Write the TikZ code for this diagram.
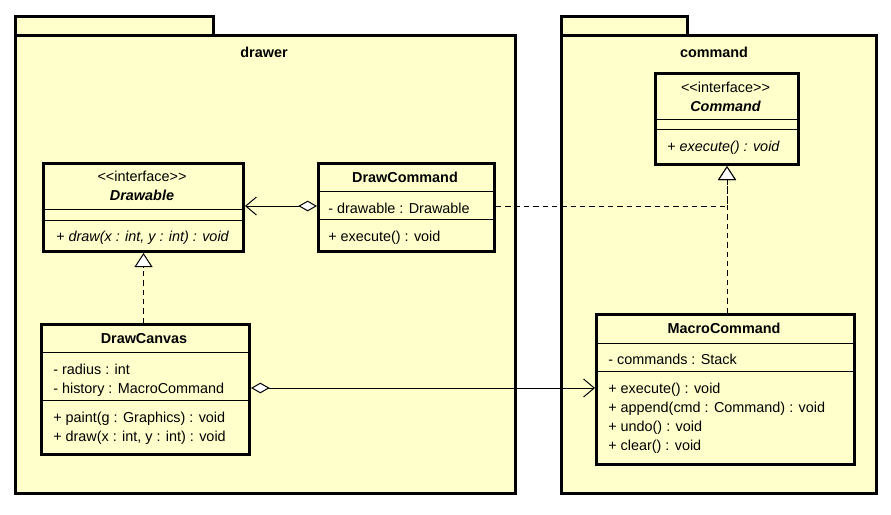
\documentclass[tikz,border=0pt]{standalone}
\usepackage{fontspec}
\setmainfont{Liberation Sans}
\usetikzlibrary{arrows.meta}
\definecolor{umlfill}{RGB}{255,255,204}
\newcommand\stereoiface{<\kern0pt<interface>\kern0pt>}
\begin{document}
\begin{tikzpicture}[x=0.75pt,y=-0.75pt,
  pkg/.style={draw, line width=2.25pt, fill=umlfill, rectangle, inner sep=0pt, anchor=north west},
  box/.style={draw, line width=2.25pt, fill=umlfill, rectangle, inner sep=0pt, anchor=north west},
  sepline/.style={line width=0.75pt},
  txt/.style={anchor=base west, inner sep=0pt, font=\fontsize{10.8pt}{13pt}\selectfont},
  ttl/.style={anchor=base, inner sep=0pt, font=\fontsize{10.8pt}{13pt}\selectfont\bfseries},
  stereo/.style={anchor=base, inner sep=0pt, font=\fontsize{10.8pt}{13pt}\selectfont},
  aggr/.style={line width=0.75pt, {Diamond[open, fill=white, length=14pt, width=8pt]}-{Straight Barb[length=8pt, width=13.5pt]}},
  realize/.style={line width=0.75pt, dash pattern=on 4pt off 3pt, -{Triangle[open, fill=white, length=10.5pt, width=13.5pt]}}
]
\useasboundingbox (0,0) rectangle (891,514);

% packages
\node[pkg, minimum width=148.5pt, minimum height=14.25pt] (drawertab) at (14,15) {};
\node[pkg, minimum width=375pt, minimum height=343.5pt] (drawer) at (14,34) {};
\node[ttl] (drawertitle) at (264,57) {drawer};
\node[pkg, minimum width=94.5pt, minimum height=14.25pt] (commandtab) at (560,15) {};
\node[pkg, minimum width=236.25pt, minimum height=343.5pt] (commandpkg) at (560,34) {};
\node[ttl] (commandtitle) at (714,57) {command};

% Drawable
\node[box, minimum width=150pt, minimum height=66pt] (drawable) at (42,162) {};
\node[stereo] (drawableS) at (142,181) {\stereoiface};
\node[ttl] (drawableT) at (142,200) {\itshape Drawable};
\draw[sepline] (drawable.west |- 0,209) -- (drawable.east |- 0,209);
\draw[sepline] (drawable.west |- 0,220) -- (drawable.east |- 0,220);
\node[txt] (drawableM) at (56,241) {+ \itshape draw(x : int, y : int) : void};

% DrawCommand
\node[box, minimum width=132pt, minimum height=66pt] (drawcmd) at (317,162) {};
\node[ttl] (drawcmdT) at (405,182) {DrawCommand};
\draw[sepline] (drawcmd.west |- 0,191) -- (drawcmd.east |- 0,191);
\node[txt] (drawcmdA) at (328,213) {- drawable : Drawable};
\draw[sepline] (drawcmd.west |- 0,219) -- (drawcmd.east |- 0,219);
\node[txt] (drawcmdM) at (328,241) {+ execute() : void};

% DrawCanvas
\node[box, minimum width=156pt, minimum height=97.5pt] (canvas) at (40,323) {};
\node[ttl] (canvasT) at (144,343) {DrawCanvas};
\draw[sepline] (canvas.west |- 0,352) -- (canvas.east |- 0,352);
\node[txt] (canvasA1) at (53,374) {- radius : int};
\node[txt] (canvasA2) at (53,393) {- history : MacroCommand};
\draw[sepline] (canvas.west |- 0,400) -- (canvas.east |- 0,400);
\node[txt] (canvasM1) at (53,422) {+ paint(g : Graphics) : void};
\node[txt] (canvasM2) at (53,441) {+ draw(x : int, y : int) : void};

% Command
\node[box, minimum width=107.25pt, minimum height=68.25pt] (command) at (654,72) {};
\node[stereo] (commandS) at (725.5,92) {\stereoiface};
\node[ttl] (commandT) at (725.5,111) {\itshape Command};
\draw[sepline] (command.west |- 0,119) -- (command.east |- 0,119);
\draw[sepline] (command.west |- 0,129) -- (command.east |- 0,129);
\node[txt] (commandM) at (667,151) {+ \itshape execute() : void};

% MacroCommand
\node[box, minimum width=193.5pt, minimum height=112.5pt] (macro) at (595,313) {};
\node[ttl] (macroT) at (724,333) {MacroCommand};
\draw[sepline] (macro.west |- 0,343) -- (macro.east |- 0,343);
\node[txt] (macroA) at (608,364) {- commands : Stack};
\draw[sepline] (macro.west |- 0,371) -- (macro.east |- 0,371);
\node[txt] (macroM1) at (608,393) {+ execute() : void};
\node[txt] (macroM2) at (608,412) {+ append(cmd : Command) : void};
\node[txt] (macroM3) at (608,431) {+ undo() : void};
\node[txt] (macroM4) at (608,450) {+ clear() : void};

% connectors
\draw[aggr] (drawcmd.west |- 0,206) -- (drawable.east |- 0,206);
\draw[aggr] (canvas.east |- 0,388) -- (macro.west |- 0,388);
\draw[realize] (canvas.north -| drawable.south) -- (drawable.south);
\draw[realize] (drawcmd.east |- 0,206) -| (command.south);
\draw[realize] (command.south |- macro.north) -- (command.south);
\end{tikzpicture}
\end{document}
